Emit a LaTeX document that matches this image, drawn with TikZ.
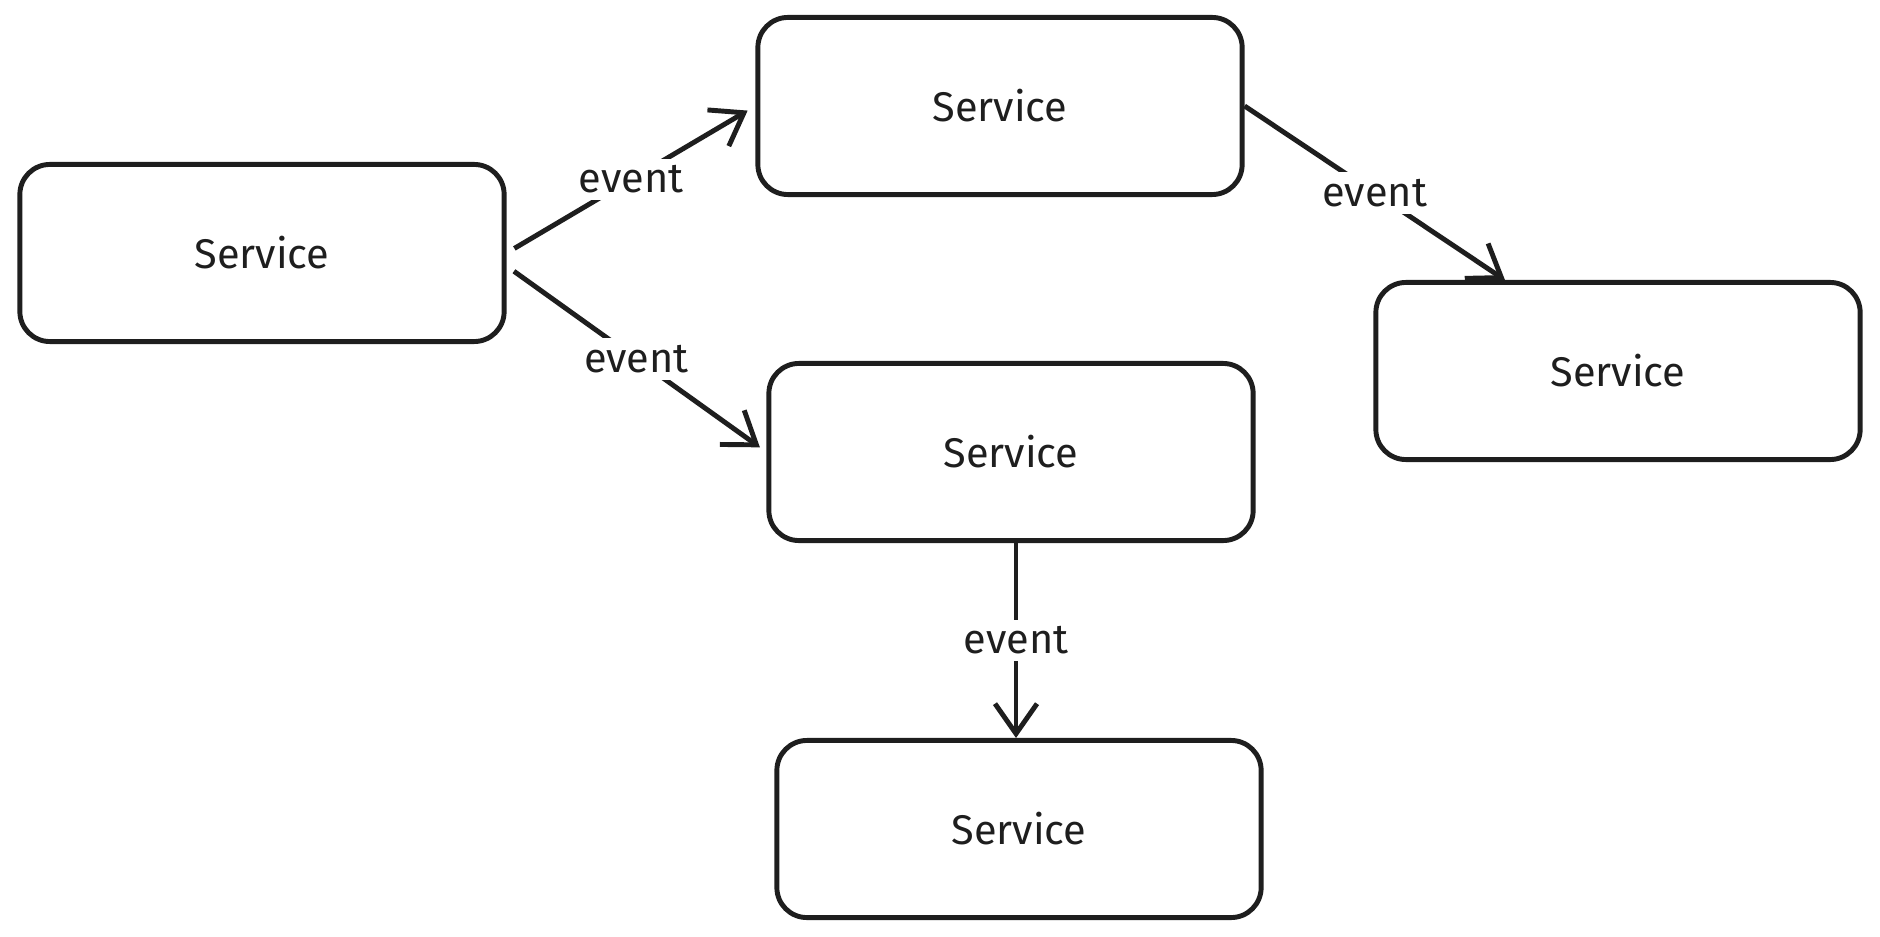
\documentclass[tikz,border=0pt]{standalone}
\usepackage{fontspec}
\setmainfont{Fira Sans}
\usepackage{tikz}
\usetikzlibrary{arrows.meta}
\definecolor{ink}{RGB}{30,30,30}

\begin{document}
\begin{tikzpicture}[x=0.01cm,y=-0.01cm]
\tikzstyle{every node}=[font=\fontsize{11.8}{14}\selectfont, text=ink]
\tikzstyle{svc}=[draw=ink, line width=1.4pt, rounded corners=0.3cm,
  minimum width=4.84cm, minimum height=1.77cm]
\tikzstyle{flow}=[draw=ink, line width=1.4pt,
  arrows={-Straight Barb[length=3mm,width=4.2mm]}]
\tikzstyle{lbl}=[fill=white, inner sep=2pt]
\useasboundingbox (0,0) rectangle (1880,937);
\node[svc] (l) at (262,253) {Service};
\node[svc] (t) at (1000,106) {Service};
\node[svc] (m) at (1011,452) {Service};
\node[svc] (r) at (1618,371) {Service};
\node[svc] (b) at (1019,829) {Service};
\draw[flow, shorten <=0.09cm, shorten >=0.09cm] (l.east) -- (t.west) node[lbl, midway] {event};
\draw[flow, shorten <=0.09cm, shorten >=0.08cm] ([yshift=-0.13cm]l.east) -- (m.west) node[lbl, midway] {event};
\draw[flow] (t.east) -- ([xshift=-1.13cm]r.north) node[lbl, midway] {event};
\coordinate (ms) at ([xshift=0.05cm]m.south);
\draw[flow] (ms) -- (ms |- b.north) node[lbl, midway] {event};
\end{tikzpicture}
\end{document}
